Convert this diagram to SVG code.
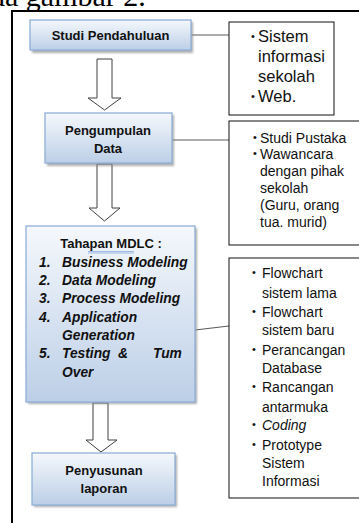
<svg xmlns="http://www.w3.org/2000/svg" width="359" height="523" viewBox="0 0 359 523">
<defs>
<linearGradient id="bg" x1="0" y1="0" x2="0" y2="1">
<stop offset="0" stop-color="#f5f8fc"/>
<stop offset="1" stop-color="#bccfe7"/>
</linearGradient>
<filter id="sh" x="-10%" y="-10%" width="130%" height="130%">
<feGaussianBlur stdDeviation="1.2"/>
</filter>
</defs>
<style>
.box{fill:url(#bg);stroke:#8fb0d8;stroke-width:1.3}
.shadow{fill:#8c8c8c;opacity:0.7;filter:url(#sh)}
.nt{font-family:"Liberation Sans",Arial,sans-serif;font-weight:bold;font-size:13px;fill:#111;text-anchor:middle}
.li{font-family:"Liberation Sans",Arial,sans-serif;font-weight:bold;font-style:italic;font-size:13.8px;fill:#111}
.side{fill:#fff;stroke:#111;stroke-width:1}
.st{font-family:"Liberation Sans",Arial,sans-serif;font-size:14px;fill:#111}
.st1{font-family:"Liberation Sans",Arial,sans-serif;font-size:16.5px;fill:#111}
.bu{font-family:"Liberation Sans",Arial,sans-serif;font-size:11px;fill:#111;text-anchor:middle}
.arr{fill:#fff;stroke:#404040;stroke-width:1}
.con{fill:none;stroke:#5a5a5a;stroke-width:1.2}
</style>
<text x="-10" y="6" font-family="Liberation Serif,Times New Roman,serif" font-size="30" fill="#000">da gambar 2.</text>
<rect x="12" y="11" width="420" height="600" fill="none" stroke="#000" stroke-width="2"/>
<g id="connectors">
<line class="con" x1="191" y1="35" x2="229" y2="35"/>
<line class="con" x1="172" y1="140" x2="229" y2="140"/>
<line class="con" x1="195" y1="330" x2="229" y2="326"/>
<path class="arr" d="M97,59 H112 V98 H121 L104.5,110 L88,98 H97 Z"/>
<path class="arr" d="M97,164 H112 V208 H120 L104.5,221 L89,208 H97 Z"/>
<path class="arr" d="M93,403 H108 V440 H117 L101,452 L86,440 H93 Z"/>
</g>
<g id="n1">
<rect class="shadow" x="32" y="22" width="161" height="31"/>
<rect class="box" x="30" y="20" width="161" height="30"/>
<text class="nt" x="110.5" y="40">Studi Pendahuluan</text>
</g>
<g id="n2">
<rect class="shadow" x="47" y="115" width="127" height="51"/>
<rect class="box" x="45" y="113" width="127" height="50"/>
<text class="nt" x="108" y="135">Pengumpulan</text>
<text class="nt" x="108" y="153">Data</text>
</g>
<g id="n3">
<rect class="shadow" x="28" y="228" width="169" height="176"/>
<rect class="box" x="26" y="226" width="169" height="176"/>
<text class="nt" x="111" y="248">Tahapan MDLC :</text>
<path d="M88,251.5 H134 M88,253 H134" stroke="#8aa9e0" stroke-width="0.8" fill="none"/>
<text class="li" x="39" y="267">1.</text><text class="li" x="62" y="267">Business Modeling</text>
<text class="li" x="39" y="285">2.</text><text class="li" x="62" y="285">Data Modeling</text>
<text class="li" x="39" y="303">3.</text><text class="li" x="62" y="303">Process Modeling</text>
<text class="li" x="39" y="322">4.</text><text class="li" x="62" y="322">Application</text>
<text class="li" x="62" y="340">Generation</text>
<text class="li" x="39" y="358">5.</text><text class="li" x="62" y="358">Testing</text><text class="li" x="118" y="358">&amp;</text><text class="li" x="153" y="358">Tum</text>
<text class="li" x="62" y="377">Over</text>
</g>
<g id="n4">
<rect class="shadow" x="34" y="455" width="143" height="52"/>
<rect class="box" x="32" y="453" width="143" height="52"/>
<text class="nt" x="104" y="475">Penyusunan</text>
<text class="nt" x="104" y="493">laporan</text>
</g>
<g id="s1">
<rect class="side" x="229" y="22" width="105" height="93"/>
<text class="bu" x="253" y="40">•</text><text class="st1" x="258" y="42">Sistem</text>
<text class="st1" x="258" y="62">informasi</text>
<text class="st1" x="258" y="82">sekolah</text>
<text class="bu" x="253" y="100">•</text><text class="st1" x="258" y="102">Web.</text>
</g>
<g id="s2">
<rect class="side" x="229" y="121" width="200" height="124"/>
<text class="bu" x="255" y="141">•</text><text class="st" x="260" y="143">Studi Pustaka</text>
<text class="bu" x="255" y="157">•</text><text class="st" x="260" y="159">Wawancara</text>
<text class="st" x="260" y="176">dengan pihak</text>
<text class="st" x="260" y="193">sekolah</text>
<text class="st" x="260" y="210">(Guru, orang</text>
<text class="st" x="260" y="227">tua. murid)</text>
</g>
<g id="s3">
<rect class="side" x="229" y="258" width="200" height="240"/>
<text class="bu" x="254" y="276">•</text><text class="st" x="262" y="278">Flowchart</text>
<text class="st" x="262" y="298">sistem lama</text>
<text class="bu" x="254" y="315">•</text><text class="st" x="262" y="317">Flowchart</text>
<text class="st" x="262" y="335">sistem baru</text>
<text class="bu" x="254" y="353">•</text><text class="st" x="262" y="355">Perancangan</text>
<text class="st" x="262" y="373">Database</text>
<text class="bu" x="254" y="390">•</text><text class="st" x="262" y="392">Rancangan</text>
<text class="st" x="262" y="412">antarmuka</text>
<text class="bu" x="254" y="428">•</text><text class="st" x="262" y="430" font-style="italic">Coding</text>
<text class="bu" x="254" y="448">•</text><text class="st" x="262" y="450">Prototype</text>
<text class="st" x="262" y="468">Sistem</text>
<text class="st" x="262" y="486">Informasi</text>
</g>
</svg>
